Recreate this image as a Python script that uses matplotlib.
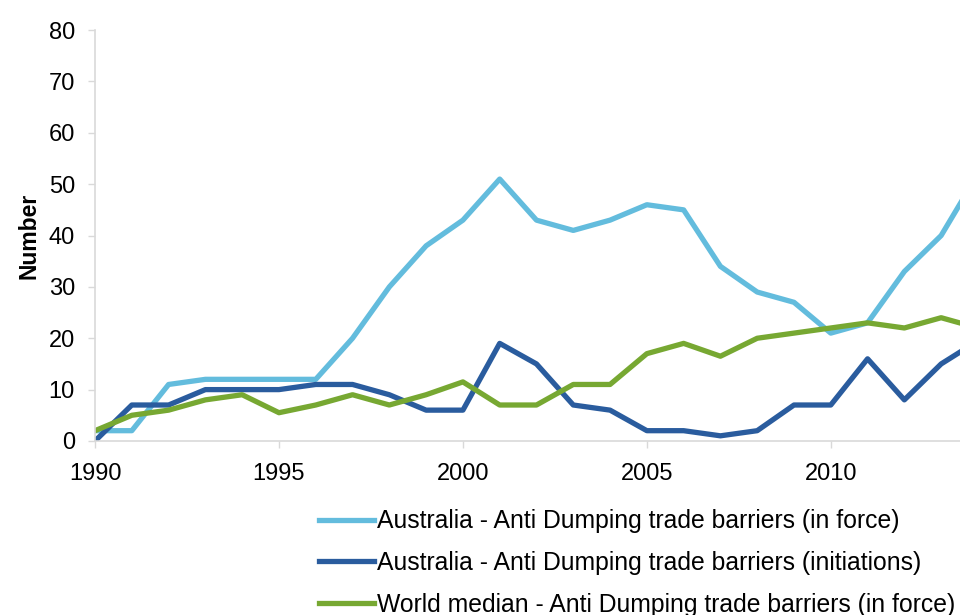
import matplotlib
matplotlib.use('Agg')
import matplotlib.pyplot as plt

plt.rcParams['font.family'] = ['Liberation Sans', 'DejaVu Sans']

# years and series
years = list(range(1990, 2015))
in_force = [2, 2, 11, 12, 12, 12, 12, 20, 30, 38, 43, 51, 43, 41, 43, 46, 45,
            34, 29, 27, 21, 23, 33, 40, 52]
initiations = [0, 7, 7, 10, 10, 10, 11, 11, 9, 6, 6, 19, 15, 7, 6, 2, 2,
               1, 2, 7, 7, 16, 8, 15, 19.5]
world_median = [2, 5, 6, 8, 9, 5.5, 7, 9, 7, 9, 11.5, 7, 7, 11, 11, 17, 19,
                16.5, 20, 21, 22, 23, 22, 24, 22]

labels = ['Australia - Anti Dumping trade barriers (in force)',
          'Australia - Anti Dumping trade barriers (initiations)',
          'World median - Anti Dumping trade barriers (in force)']
colors = ['#63BCDD', '#2A5C9E', '#77A832']

fig = plt.figure(figsize=(9.6, 6.15), dpi=100)
# axes runs past the right edge, like the cropped original
ax = fig.add_axes([0.099, 0.283, 0.958, 0.668])

for ys, lab, c in zip([in_force, initiations, world_median], labels, colors):
    ax.plot(years, ys, color=c, lw=3.8, label=lab)

ax.set_xlim(1990, 2015)
ax.set_ylim(0, 80)
ax.set_xticks([1990, 1995, 2000, 2005, 2010])
ax.set_yticks(range(0, 81, 10))
ax.tick_params(axis='both', colors='#D9D9D9', labelcolor='black',
               labelsize=17, length=5, width=1)
ax.tick_params(axis='y', pad=9.5)
ax.tick_params(axis='x', pad=11)
for s in ['top', 'right']:
    ax.spines[s].set_visible(False)
for s in ['left', 'bottom']:
    ax.spines[s].set_color('#D9D9D9')
    ax.spines[s].set_linewidth(1.2)
ax.set_ylabel('Number', fontsize=16.5, fontweight='bold', labelpad=6)

fig.legend(loc='upper left', bbox_to_anchor=(0.332, 0.172), frameon=False,
           fontsize=17.8, handlelength=2.22, handletextpad=0.12,
           labelspacing=0.72, borderpad=0, borderaxespad=0)

fig.savefig('out.png', dpi=100)
